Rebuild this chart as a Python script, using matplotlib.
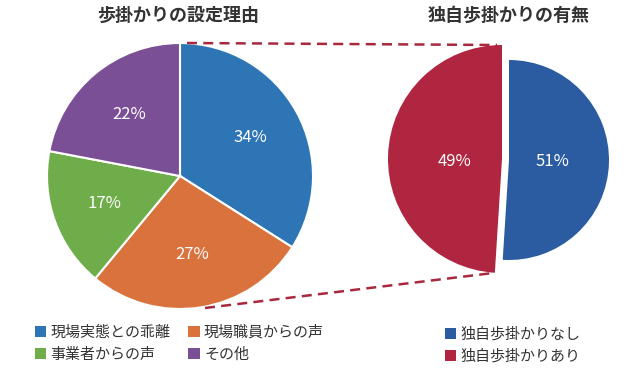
import matplotlib.pyplot as plt
from matplotlib.patches import Patch

plt.rcParams['font.family'] = ['Noto Sans CJK JP', 'DejaVu Sans']

# left pie: reasons
reason_labels = ['現場実態との乖離', '現場職員からの声', '事業者からの声', 'その他']
reason_values = [34, 27, 17, 22]
reason_colors = ['#2e75b6', '#d9723c', '#6fad4a', '#7a4f96']

# right pie: own estimate yes/no
own_labels = ['独自歩掛かりなし', '独自歩掛かりあり']
own_values = [51, 49]
own_colors = ['#2b5ba0', '#b02540']

W, H = 640, 370
fig = plt.figure(figsize=(6.4, 3.7), dpi=100)
ax = fig.add_axes([0, 0, 1, 1])
ax.set_xlim(0, W)
ax.set_ylim(0, H)
ax.set_aspect('equal')
ax.axis('off')

def py(y):
    # pixel row -> data y
    return H - y

# left pie
w1, t1, a1 = ax.pie(reason_values, colors=reason_colors, startangle=90, counterclock=False,
                    center=(180, py(176)), radius=133, autopct='%.0f%%', pctdistance=0.6,
                    wedgeprops=dict(edgecolor='white', linewidth=1.5),
                    textprops=dict(color='white', fontsize=12))
ax.set_xlim(0, W)
ax.set_ylim(0, H)

# right pie
w2, t2, a2 = ax.pie(own_values, colors=own_colors, startangle=90, counterclock=False,
                    center=(509, py(160)), radius=100, autopct='%.0f%%', pctdistance=0.44,
                    textprops=dict(color='white', fontsize=12))
# red slice pulled out and drawn bigger
w2[1].set_center((502, py(159)))
w2[1].set_radius(114)
a2[1].set_position((455, py(162)))
ax.set_xlim(0, W)
ax.set_ylim(0, H)

# dashed connector lines
ax.plot([187, 497], [py(43), py(45)], ls=(0, (4, 2.5)), color='#a8283e', lw=1.8)
ax.plot([205, 493], [py(308), py(273)], ls=(0, (4, 2.5)), color='#a8283e', lw=1.8)

# titles
ax.text(178, py(15), '歩掛かりの設定理由', ha='center', va='center', fontsize=13,
        fontweight='bold', color='#333333')
ax.text(509, py(15), '独自歩掛かりの有無', ha='center', va='center', fontsize=13,
        fontweight='bold', color='#333333')

# legends
h1 = [Patch(facecolor=c, label=l) for c, l in zip(reason_colors, reason_labels)]
h1 = [h1[0], h1[2], h1[1], h1[3]]
leg1 = fig.legend(handles=h1, ncol=2, loc='upper left', bbox_to_anchor=(27 / W, 1 - 318 / H),
                  frameon=False, fontsize=10.8, handlelength=0.75, handleheight=0.75,
                  handletextpad=0.3, columnspacing=1.2, labelspacing=0.5, borderpad=0,
                  labelcolor='#333333')
h2 = [Patch(facecolor=c, label=l) for c, l in zip(own_colors, own_labels)]
fig.legend(handles=h2, loc='upper left', bbox_to_anchor=(437 / W, 1 - 320 / H),
           frameon=False, fontsize=10.8, handlelength=0.75, handleheight=0.75,
           handletextpad=0.3, labelspacing=0.5, borderpad=0, labelcolor='#333333')

fig.savefig('out.png', dpi=100)
